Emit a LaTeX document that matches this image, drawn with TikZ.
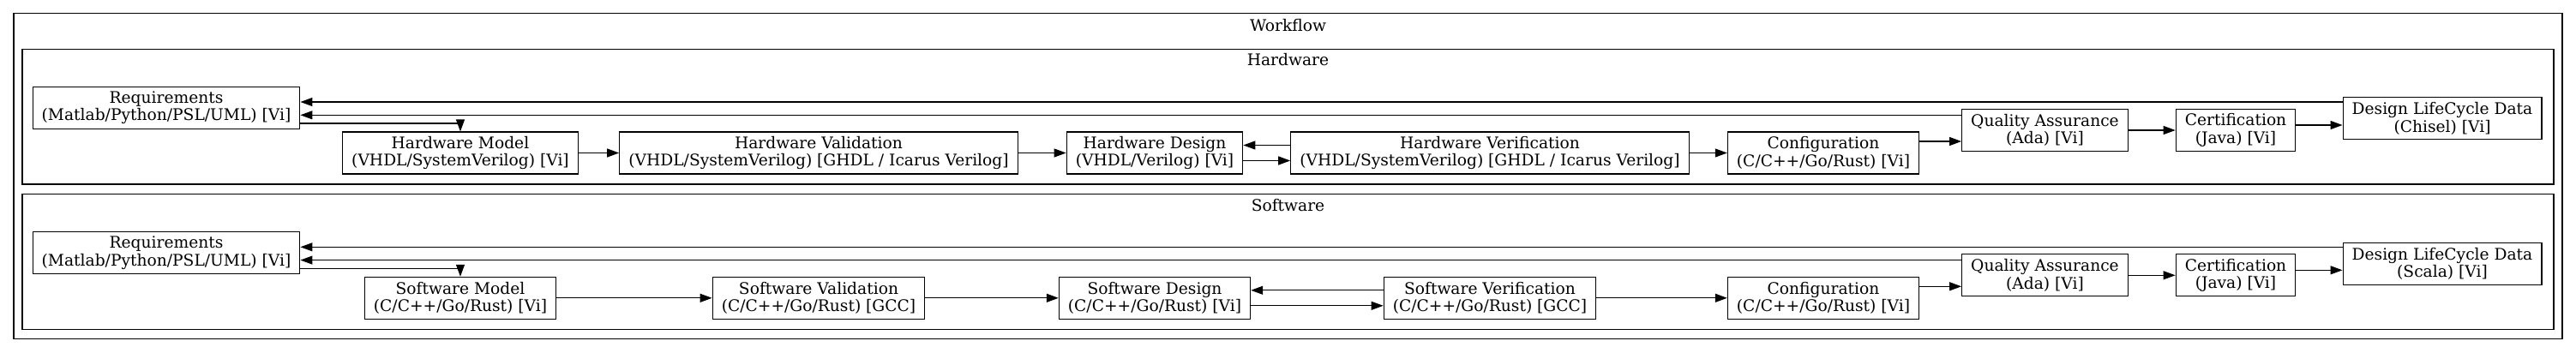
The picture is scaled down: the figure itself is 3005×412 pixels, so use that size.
\documentclass[tikz,border=0pt]{standalone}
\usepackage{fontspec}
\setmainfont{DejaVu Serif}
\usetikzlibrary{arrows.meta}
\tikzset{
  stage/.style={draw, line width=0.55pt, align=center, inner xsep=5.3pt, inner ysep=0pt,
    minimum height=24.5pt, font=\fontsize{9.33}{10.2}\selectfont},
  flow/.style={line width=0.55pt, -{Triangle[length=7pt,width=5pt]}},
  cluster/.style={draw, line width=0.55pt},
  title/.style={anchor=base, inner sep=0pt, font=\fontsize{9.33}{10.2}\selectfont}
}
\begin{document}
\begin{tikzpicture}[x=0.5pt, y=-0.5pt]
    \useasboundingbox (0,0) rectangle (3005,412);
    % draw frames
    \draw [cluster] (16,15.7) rectangle (2989,395.5);
    \draw [cluster] (26,57.5) rectangle (2979,215);
    \draw [cluster] (26,226.8) rectangle (2979,384.5);
    % add labels
    \node [title] (wf) at (1502.5,36) {Workflow};
    \node [title] (hw) at (1502.5,76.7) {Hardware};
    \node [title] (sw) at (1502.5,246) {Software};
    % hardware stages
    \node [stage] (reqh) at (194,126) {Requirements\\(Matlab/Python/PSL/UML) [Vi]};
    \node [stage] (modh) at (537,178.5) {Hardware Model\\(VHDL/SystemVerilog) [Vi]};
    \node [stage] (valh) at (955,178.5) {Hardware Validation\\(VHDL/SystemVerilog) [GHDL / Icarus Verilog]};
    \node [stage] (desh) at (1347,178.5) {Hardware Design\\(VHDL/Verilog) [Vi]};
    \node [stage] (verh) at (1738,178.5) {Hardware Verification\\(VHDL/SystemVerilog) [GHDL / Icarus Verilog]};
    \node [stage] (confh) at (2127,178.5) {Configuration\\(C/C++/Go/Rust) [Vi]};
    \node [stage] (qah) at (2385.5,152) {Quality Assurance\\(Ada) [Vi]};
    \node [stage] (certh) at (2608,152) {Certification\\(Java) [Vi]};
    \node [stage] (dldh) at (2849,138.3) {Design LifeCycle Data\\(Chisel) [Vi]};
    % software stages
    \node [stage] (reqs) at (194,295.3) {Requirements\\(Matlab/Python/PSL/UML) [Vi]};
    \node [stage] (mods) at (537,347.8) {Software Model\\(C/C++/Go/Rust) [Vi]};
    \node [stage] (vals) at (955,347.8) {Software Validation\\(C/C++/Go/Rust) [GCC]};
    \node [stage] (dess) at (1347,347.8) {Software Design\\(C/C++/Go/Rust) [Vi]};
    \node [stage] (vers) at (1738,347.8) {Software Verification\\(C/C++/Go/Rust) [GCC]};
    \node [stage] (confs) at (2127,347.8) {Configuration\\(C/C++/Go/Rust) [Vi]};
    \node [stage] (qas) at (2385.5,321.3) {Quality Assurance\\(Ada) [Vi]};
    \node [stage] (certs) at (2608,321.3) {Certification\\(Java) [Vi]};
    \node [stage] (dlds) at (2849,307.6) {Design LifeCycle Data\\(Scala) [Vi]};
    % hardware edges
    \draw [flow] ([yshift=9.65pt]dldh.west) -- ([yshift=9.65pt]dldh.west -| reqh.east);
    \draw [flow] ([yshift=8.85pt]qah.west) -- ([yshift=8.85pt]qah.west -| reqh.east);
    \draw [flow] ([yshift=-9pt]reqh.east) -| (modh.north);
    \draw [flow] (modh) -- (valh);
    \draw [flow] (valh) -- (desh);
    \draw [flow] ([yshift=4.5pt]verh.west) -- ([yshift=4.5pt]verh.west -| desh.east);
    \draw [flow] ([yshift=-4.5pt]desh.east) -- ([yshift=-4.5pt]desh.east -| verh.west);
    \draw [flow] (verh) -- (confh);
    \draw [flow] ([yshift=6.75pt]confh.east) -- ([yshift=6.75pt]confh.east -| qah.west);
    \draw [flow] (qah) -- (certh);
    \draw [flow] ([yshift=3pt]certh.east) -- ([yshift=3pt]certh.east -| dldh.west);
    % software edges
    \draw [flow] ([yshift=9.65pt]dlds.west) -- ([yshift=9.65pt]dlds.west -| reqs.east);
    \draw [flow] ([yshift=8.85pt]qas.west) -- ([yshift=8.85pt]qas.west -| reqs.east);
    \draw [flow] ([yshift=-9pt]reqs.east) -| (mods.north);
    \draw [flow] (mods) -- (vals);
    \draw [flow] (vals) -- (dess);
    \draw [flow] ([yshift=4.5pt]vers.west) -- ([yshift=4.5pt]vers.west -| dess.east);
    \draw [flow] ([yshift=-4.5pt]dess.east) -- ([yshift=-4.5pt]dess.east -| vers.west);
    \draw [flow] (vers) -- (confs);
    \draw [flow] ([yshift=6.75pt]confs.east) -- ([yshift=6.75pt]confs.east -| qas.west);
    \draw [flow] (qas) -- (certs);
    \draw [flow] ([yshift=3pt]certs.east) -- ([yshift=3pt]certs.east -| dlds.west);
\end{tikzpicture}
\end{document}
